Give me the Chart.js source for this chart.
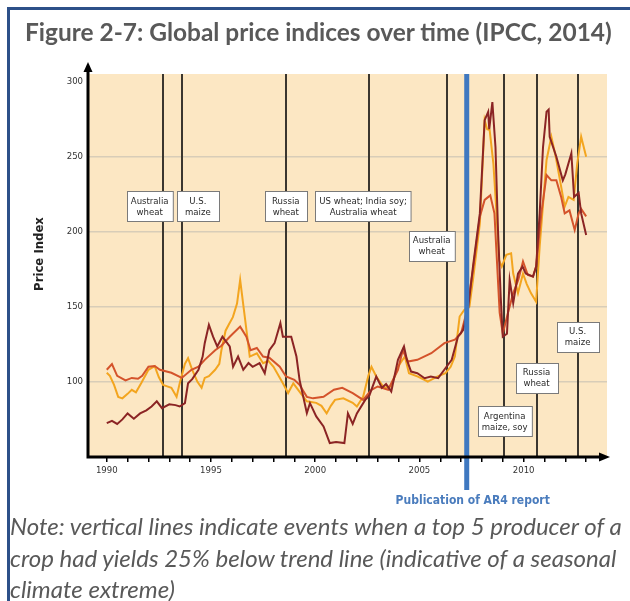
<!DOCTYPE html>
<html>
<head>
<meta charset="utf-8">
<script src="https://cdn.jsdelivr.net/npm/chart.js@4.4.0/dist/chart.umd.min.js"></script>
<style>
  body { margin: 0; background: #fff; }
  #wrap { position: relative; width: 630px; height: 601px; overflow: hidden; }
  #chart { position: absolute; left: 0; top: 0; }
  .frame { position: absolute; background: #2d5089; }
  #title { position: absolute; left: 25px; top: 19px; font-family: Lato, 'Open Sans', sans-serif; font-weight: bold; font-size: 21px; line-height: 26px; color: #595959; white-space: nowrap; }
  .note { position: absolute; left: 10px; font-family: Lato, 'Open Sans', sans-serif; font-style: italic; font-size: 21px; line-height: 26px; color: #595959; white-space: nowrap; }
</style>
</head>
<body>
<div id="wrap">
  <canvas id="chart" width="630" height="601"></canvas>
  <div class="frame" style="left:7px;top:7px;width:623px;height:3px;"></div>
  <div class="frame" style="left:7px;top:7px;width:3px;height:594px;"></div>
  <div id="title">Figure 2-7: Global price indices over time (IPCC, 2014)</div>
  <div class="note" id="note1" style="top:513px;">Note: vertical lines indicate events when a top 5 producer of a</div>
  <div class="note" id="note2" style="top:545px;">crop had yields 25% below trend line (indicative of a seasonal</div>
  <div class="note" id="note3" style="top:576px;">climate extreme)</div>
</div>
<script>
// price index series (years, values)
var orangeYears = [1990.0,1990.15,1990.35,1990.55,1990.75,1991.0,1991.2,1991.4,1991.65,1992.0,1992.3,1992.5,1992.7,1992.9,1993.1,1993.35,1993.5,1993.75,1993.9,1994.1,1994.35,1994.55,1994.7,1994.9,1995.2,1995.4,1995.5,1995.7,1995.85,1996.05,1996.25,1996.4,1996.6,1996.86,1997.2,1997.5,1997.75,1998.0,1998.45,1998.7,1998.95,1999.3,1999.6,2000.05,2000.3,2000.55,2000.75,2000.95,2001.35,2001.8,2002.0,2002.3,2002.55,2002.7,2002.93,2003.3,2003.65,2003.97,2004.3,2004.5,2004.93,2005.4,2005.85,2006.25,2006.5,2006.7,2006.93,2007.15,2007.4,2007.57,2007.9,2008.13,2008.25,2008.37,2008.55,2008.7,2008.82,2008.95,2009.17,2009.4,2009.5,2009.73,2009.97,2010.15,2010.35,2010.6,2010.77,2011.1,2011.33,2011.55,2011.8,2011.97,2012.15,2012.4,2012.57,2012.76,2012.85,2013.0];
var orangeValues = [106,104,98,90,89,92,94.7,93,99,108,110.4,103,98,97,96,90,99,112,115.7,108,100,96,102.6,103.7,108,112,121,134,138,143,152,167.8,145.6,116.8,119,112.4,114,110,99,92.5,99,92.5,87,86,84,79,84,88,89,86,83.6,90,104,110,103.5,96,97,110,116.8,105.7,103.5,100.2,103.5,105.7,110,116.8,143.4,147.8,150,167.8,205.3,274,268,267.4,245,212,181,176.6,184.4,185.5,172,159,172,165,159,153.3,190,247.5,263,249,229.8,216.5,223,221,245,263,258,249.6];

var redYears = [1990.0,1990.25,1990.5,1990.9,1991.2,1991.5,1991.7,1992.0,1992.3,1992.55,1993.1,1993.6,1994.06,1994.4,1994.7,1995.2,1995.5,1995.9,1996.4,1996.7,1996.9,1997.2,1997.5,1997.8,1998.3,1998.6,1999.0,1999.25,1999.6,1999.9,2000.4,2000.9,2001.3,2001.8,2002.3,2002.7,2003.0,2003.5,2003.97,2004.2,2004.45,2004.9,2005.57,2006.2,2006.7,2007.0,2007.25,2007.57,2007.9,2008.13,2008.4,2008.6,2008.7,2008.85,2009.0,2009.25,2009.5,2009.75,2009.97,2010.2,2010.45,2010.6,2010.85,2011.1,2011.33,2011.57,2011.8,2011.97,2012.2,2012.45,2012.64,2012.76,2013.0];
var redValues = [108,111.8,104,101,102.6,102,104,110,110.5,108,106,102.6,108,110,114.6,121,124,130,136.7,130,121,122.5,116.8,116,110,103.5,101.3,98,90,89,90,94.7,96,92.5,88,94.7,96.9,94.7,108,121,113.5,114.6,119,125.7,128,132.3,145.6,174.4,209.8,221,224,212,185.5,146,132,146,159,168,180,171,170,176.6,212,237.5,234,234,223,212,214,201,212,215,210];

var darkYears = [1990.0,1990.25,1990.5,1990.75,1991.0,1991.3,1991.6,1991.9,1992.15,1992.4,1992.65,1993.0,1993.3,1993.5,1993.75,1993.9,1994.1,1994.4,1994.6,1994.7,1994.9,1995.1,1995.3,1995.55,1995.9,1996.06,1996.3,1996.55,1996.8,1997.0,1997.33,1997.58,1997.8,1998.05,1998.33,1998.45,1998.85,1999.1,1999.25,1999.6,1999.75,2000.05,2000.4,2000.7,2001.0,2001.4,2001.57,2001.8,2002.0,2002.4,2002.6,2002.93,2003.2,2003.4,2003.65,2003.97,2004.26,2004.4,2004.6,2004.9,2005.25,2005.55,2005.9,2006.3,2006.55,2006.85,2007.1,2007.33,2007.57,2007.9,2008.13,2008.3,2008.35,2008.5,2008.65,2008.77,2008.9,2009.0,2009.2,2009.33,2009.5,2009.73,2009.95,2010.1,2010.45,2010.6,2010.77,2010.93,2011.1,2011.2,2011.25,2011.57,2011.88,2012.0,2012.29,2012.42,2012.64,2012.76,2013.0];
var darkValues = [72.5,74,72,75,79,75.5,79,81,83.6,87,82.5,85,84.5,83.6,85.8,99,101.8,108,116.8,125.7,137.9,130,123.5,130,123.5,110,116.8,108,112.5,110,112.4,105.7,121,125.7,139,130,130,116.8,101.3,79.2,85.8,77,70.3,59.3,60,59.3,79,72,79,88,91,103.5,96,98.5,93.6,114.6,123.5,114.6,106.8,105.7,102.4,103.5,102.4,110,114.6,130,134.5,147.8,176.6,212,274,279.6,268,286,256,201,156.7,130,132,167.8,152.3,172,176.6,172,170,176.6,212,256,279.6,281,263,249.7,234,238,252,223,225.6,212,197.7];

// axis ticks
var yTicks = [100, 150, 200, 250, 300];
var xTicks = [1990,1991,1992,1993,1994,1995,1996,1997,1998,1999,2000,2001,2002,2003,2004,2005,2006,2007,2008,2009,2010,2011,2012,2013];

// yield shock events (vertical lines) and their labels
var eventYears = [1992.69, 1993.6, 1998.59, 2002.57, 2006.31, 2009.04, 2010.62, 2012.59];
var eventLabels = [['Australia','wheat'], ['U.S.','maize'], ['Russia','wheat'], ['US wheat; India soy;','Australia wheat'], ['Australia','wheat'], ['Argentina','maize, soy'], ['Russia','wheat'], ['U.S.','maize']];
var ar4Year = 2007.27;

// where the label boxes sit (data coords)
var labelBoxYears = [1992.06, 1994.37, 1998.59, 2002.30, 2005.59, 2009.09, 2010.62, 2012.59];
var labelBoxValues = [216.6, 216.6, 216.6, 216.6, 190.4, 73.8, 102.7, 129.9];

function pts(xs, ys) {
  return xs.map(function (x, i) { return { x: x, y: ys[i] }; });
}

var smallFont = "'Liberation Sans Narrow', 'DejaVu Sans Condensed', Roboto, sans-serif";

var overlay = {
  id: 'overlay',
  beforeDraw: function (chart) {
    var a = chart.chartArea, c = chart.ctx;
    c.save();
    c.fillStyle = '#fce7c3';
    c.fillRect(a.left, a.top, a.right - a.left, a.bottom - a.top);
    c.restore();
  },
  beforeDatasetsDraw: function (chart) {
    var a = chart.chartArea, c = chart.ctx, xs = chart.scales.x;
    c.save();
    c.strokeStyle = '#3b362f';
    c.lineWidth = 2;
    eventYears.forEach(function (yr) {
      var px = Math.round(xs.getPixelForValue(yr));
      c.beginPath();
      c.moveTo(px, a.top);
      c.lineTo(px, a.bottom);
      c.stroke();
    });
    c.restore();
  },
  afterDatasetsDraw: function (chart) {
    var a = chart.chartArea, c = chart.ctx, xs = chart.scales.x, ys = chart.scales.y;
    c.save();

    // AR4 publication line
    var bx = xs.getPixelForValue(ar4Year);
    c.strokeStyle = '#3f78c0';
    c.lineWidth = 5;
    c.beginPath();
    c.moveTo(bx, a.top);
    c.lineTo(bx, 490);
    c.stroke();
    c.fillStyle = '#4a7cbd';
    c.font = "bold 12px 'Liberation Sans Narrow', 'DejaVu Sans Condensed', sans-serif";
    c.textAlign = 'center';
    c.textBaseline = 'middle';
    c.fillText('Publication of AR4 report', bx + 6, 501);

    // axes with arrows
    c.strokeStyle = '#000';
    c.fillStyle = '#000';
    c.lineWidth = 3;
    c.beginPath();
    c.moveTo(a.left, a.bottom + 1.5);
    c.lineTo(a.left, 70);
    c.moveTo(a.left - 1.5, a.bottom);
    c.lineTo(a.right - 6, a.bottom);
    c.stroke();
    c.beginPath();
    c.moveTo(a.left, 62); c.lineTo(a.left - 4.5, 72); c.lineTo(a.left + 4.5, 72); c.closePath();
    c.fill();
    c.beginPath();
    c.moveTo(a.right + 3, a.bottom); c.lineTo(a.right - 8, a.bottom - 4.5); c.lineTo(a.right - 8, a.bottom + 4.5); c.closePath();
    c.fill();

    // y title
    c.save();
    c.translate(40, 254);
    c.rotate(-Math.PI / 2);
    c.font = "bold 13px 'Liberation Sans Narrow', 'DejaVu Sans Condensed', sans-serif";
    c.fillStyle = '#222';
    c.fillText('Price Index', 0, 0);
    c.restore();

    // event label boxes
    c.font = '9.5px ' + smallFont;
    eventLabels.forEach(function (lines, i) {
      var cx = xs.getPixelForValue(labelBoxYears[i]);
      var cy = ys.getPixelForValue(labelBoxValues[i]);
      var w = Math.max.apply(null, lines.map(function (t) { return c.measureText(t).width; })) + 8;
      w = Math.max(w, 42);
      var h = 30;
      var x0 = Math.round(cx - w / 2) + 0.5, y0 = Math.round(cy - h / 2) + 0.5;
      c.fillStyle = '#fff';
      c.fillRect(x0, y0, w, h);
      c.strokeStyle = '#7a7a7a';
      c.lineWidth = 1;
      c.strokeRect(x0, y0, w, h);
      c.fillStyle = '#2a2a2a';
      c.fillText(lines[0], cx, cy - 5);
      c.fillText(lines[1], cx, cy + 6);
    });
    c.restore();
  }
};

var ctx = document.getElementById('chart').getContext('2d');
var chart = new Chart(ctx, {
  type: 'line',
  data: {
    datasets: [
      { label: 'Index C', data: pts(darkYears, darkValues), borderColor: '#8b2424', borderWidth: 2, pointRadius: 0, tension: 0 },
      { label: 'Index B', data: pts(redYears, redValues), borderColor: '#d4532b', borderWidth: 2, pointRadius: 0, tension: 0 },
      { label: 'Index A', data: pts(orangeYears, orangeValues), borderColor: '#f3a51f', borderWidth: 2, pointRadius: 0, tension: 0 }
    ]
  },
  options: {
    responsive: false,
    animation: false,
    layout: { padding: { left: 0, right: 23, top: 74, bottom: 0 } },
    plugins: { legend: { display: false }, tooltip: { enabled: false } },
    scales: {
      x: {
        type: 'linear', min: 1989.1, max: 2014.0,
        afterBuildTicks: function (s) { s.ticks = xTicks.map(function (v) { return { value: v }; }); },
        afterFit: function (s) { s.height = 144; },
        border: { display: false },
        grid: { drawOnChartArea: false, drawTicks: true, tickLength: 5, color: '#000', lineWidth: 1.5 },
        ticks: {
          autoSkip: false, maxRotation: 0, padding: 3, color: '#333',
          font: { family: smallFont, size: 9.5 },
          callback: function (v) { return v % 5 === 0 ? String(v) : ''; }
        }
      },
      y: {
        min: 50, max: 304.7,
        afterBuildTicks: function (s) { s.ticks = yTicks.map(function (v) { return { value: v }; }); },
        afterFit: function (s) { s.width = 88; },
        border: { display: false },
        grid: {
          drawTicks: false, lineWidth: 1.5,
          color: function (c) { return c.tick && c.tick.value === 300 ? 'rgba(0,0,0,0)' : '#d8cdb8'; }
        },
        ticks: { padding: 5, color: '#333', font: { family: smallFont, size: 9.5 } }
      }
    }
  },
  plugins: [overlay]
});

// fit the Calibri-like text to its width in the figure
function fitWidth(el, target) {
  var size = parseFloat(getComputedStyle(el).fontSize);
  var w = el.getBoundingClientRect().width;
  if (w > 0) el.style.fontSize = (size * target / w).toFixed(2) + 'px';
}
fitWidth(document.getElementById('title'), 587);
var n1 = document.getElementById('note1');
fitWidth(n1, 612);
document.getElementById('note2').style.fontSize = n1.style.fontSize;
document.getElementById('note3').style.fontSize = n1.style.fontSize;
</script>
</body>
</html>
